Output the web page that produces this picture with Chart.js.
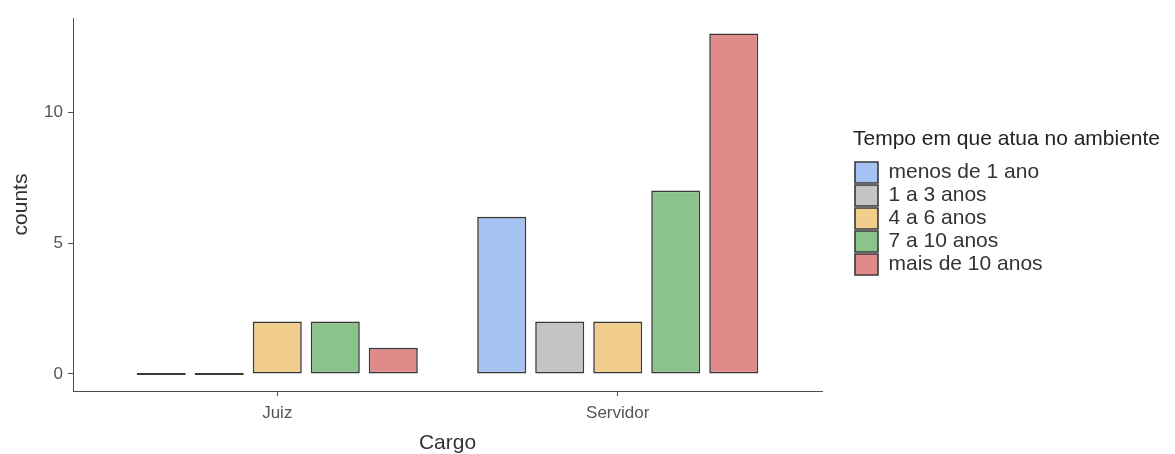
<!DOCTYPE html>
<html>
<head>
<meta charset="utf-8">
<title>counts por Cargo</title>
<script src="https://cdn.jsdelivr.net/npm/chart.js@4.4.1/dist/chart.umd.min.js"></script>
<style>
  body { margin: 0; background: #fff; }
  #wrap { width: 1175px; height: 454px; }
</style>
</head>
<body>
<div id="wrap"><canvas id="chart"></canvas></div>
<script>
// categories (x axis) and legend groups
const cargos = ["Juiz", "Servidor"];
const tempos = ["menos de 1 ano", "1 a 3 anos", "4 a 6 anos", "7 a 10 anos", "mais de 10 anos"];

// counts per group, in order Juiz, Servidor
const menosDe1 = [0, 6];
const de1a3 = [0, 2];
const de4a6 = [2, 2];
const de7a10 = [2, 7];
const maisDe10 = [1, 13];

const yTicks = [0, 5, 10];
const fills = ["#a5c3f2", "#c4c4c4", "#f2ce8d", "#8bc48a", "#e08a89"];

const series = [menosDe1, de1a3, de4a6, de7a10, maisDe10];
const font = "'Liberation Sans', Arial, sans-serif";
const axisCol = "#4f4f4f";

const datasets = series.map((vals, i) => ({
  label: tempos[i],
  data: vals.map((v, j) => ({ x: j + 1, y: v })),
  backgroundColor: fills[i],
  borderColor: "#383838",
  borderWidth: 1.6,
  borderSkipped: false,
  minBarLength: 2,
  categoryPercentage: 0.852,
  barPercentage: 0.845
}));

const chart = new Chart(document.getElementById("chart"), {
  type: "bar",
  data: { datasets: datasets },
  options: {
    responsive: true,
    maintainAspectRatio: false,
    animation: false,
    layout: { padding: { top: 18, right: 0, bottom: 0, left: 0 } },
    plugins: {
      tooltip: { enabled: false },
      legend: {
        position: "right",
        align: "start",
        title: {
          display: true,
          text: "Tempo em que atua no ambiente",
          position: "start",
          color: "#222",
          font: { family: font, size: 21 },
          padding: { top: 110.5, bottom: 6.3 }
        },
        labels: {
          boxWidth: 23,
          boxHeight: 21,
          padding: 2,
          color: "#333",
          font: { family: font, size: 21 }
        }
      }
    },
    scales: {
      x: {
        type: "linear",
        min: 0.4,
        max: 2.6,
        offset: false,
        afterFit: s => { s.height = 63; },
        afterBuildTicks: s => { s.ticks = cargos.map((c, i) => ({ value: i + 1 })); },
        border: { display: true, color: axisCol, width: 1 },
        grid: { offset: false, drawOnChartArea: false, drawTicks: true, tickLength: 5, color: axisCol },
        ticks: {
          padding: 7,
          color: "#555",
          font: { family: font, size: 17 },
          callback: v => cargos[v - 1]
        },
        title: {
          display: true,
          text: "Cargo",
          color: "#333",
          font: { family: font, size: 21, lineHeight: 1 },
          padding: { top: 0, bottom: 0 }
        }
      },
      y: {
        min: -0.65,
        max: 13.59,
        afterFit: s => { s.width = 73; },
        afterBuildTicks: s => { s.ticks = yTicks.map(v => ({ value: v })); },
        border: { display: true, color: axisCol, width: 1 },
        grid: { drawOnChartArea: false, drawTicks: true, tickLength: 5, color: axisCol },
        ticks: {
          padding: 5,
          color: "#555",
          font: { family: font, size: 17 }
        },
        title: {
          display: true,
          text: "counts",
          color: "#333",
          font: { family: font, size: 21 },
          padding: { top: 9, bottom: 0 }
        }
      },
      // empty gap between the plot and the legend
      gap: {
        type: "linear",
        position: "right",
        afterFit: s => { s.width = 31; },
        border: { display: false },
        grid: { display: false },
        ticks: { display: false }
      }
    }
  }
});

// the legend only sizes itself on its items; make room for the long title
const legendFit = chart.legend.fit.bind(chart.legend);
chart.legend.fit = function () {
  legendFit();
  this.width = 322;
};
chart.update();
</script>
</body>
</html>
